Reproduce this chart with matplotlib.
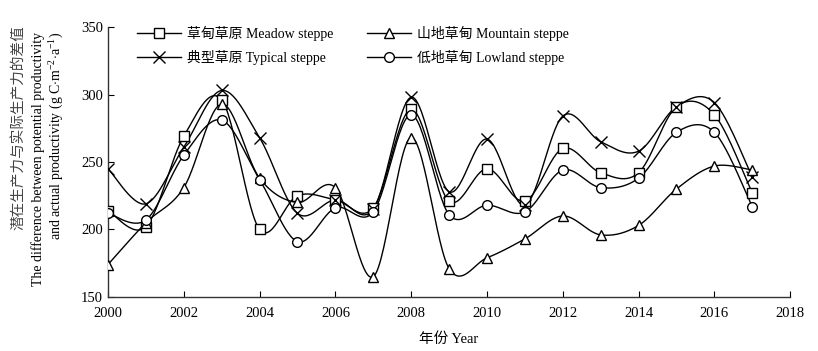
import numpy as np
import matplotlib
matplotlib.use("Agg")
import matplotlib.pyplot as plt

plt.rcParams['font.family'] = ['Liberation Serif', 'Noto Sans CJK SC']
plt.rcParams['mathtext.fontset'] = 'custom'
plt.rcParams['mathtext.rm'] = 'Liberation Serif'

years = list(range(2000, 2018))
meadow = [214, 202, 269, 296, 200, 225, 222, 216, 289, 221, 245, 221, 260, 242, 242, 291, 285, 227]
mountain = [174, 205, 231, 293, 238, 220, 231, 165, 268, 171, 179, 193, 210, 196, 203, 230, 247, 244]
typical = [245, 219, 261, 303, 268, 212, 222, 215, 298, 228, 267, 218, 284, 265, 258, 291, 294, 239]
lowland = [212, 207, 255, 281, 237, 191, 216, 213, 285, 211, 218, 213, 244, 231, 238, 272, 272, 217]

series = [
    ('草甸草原 Meadow steppe', meadow, 's'),
    ('典型草原 Typical steppe', typical, 'x'),
    ('山地草甸 Mountain steppe', mountain, '^'),
    ('低地草甸 Lowland steppe', lowland, 'o'),
]


# smooth line like the spreadsheet "smoothed line" option (Catmull-Rom)
def smooth(x, y, n=30):
    x = np.asarray(x, float)
    y = np.asarray(y, float)
    px = np.concatenate([[x[0]], x, [x[-1]]])
    py = np.concatenate([[y[0]], y, [y[-1]]])
    t = np.linspace(0, 1, n)
    xs, ys = [], []
    for i in range(1, len(x)):
        for p, out in ((px, xs), (py, ys)):
            p0, p1, p2, p3 = p[i - 1], p[i], p[i + 1], p[i + 2]
            c1 = p1 + (p2 - p0) / 6
            c2 = p2 - (p3 - p1) / 6
            b = ((1 - t) ** 3 * p1 + 3 * (1 - t) ** 2 * t * c1
                 + 3 * (1 - t) * t ** 2 * c2 + t ** 3 * p2)
            out.extend(b)
    return np.array(xs), np.array(ys)


fig = plt.figure(figsize=(8.18, 3.51), dpi=100)
ax = fig.add_axes([0.132, 0.154, 0.834, 0.769])

for label, vals, m in series:
    ms = 8 if m == 'x' else 7
    sx, sy = smooth(years, vals)
    ax.plot(sx, sy, color='black', lw=1.0, zorder=2)
    ax.plot(years, vals, linestyle='none', marker=m, markersize=ms,
            markerfacecolor='white', markeredgecolor='black',
            markeredgewidth=1.0, zorder=3)
    ax.plot([], [], color='black', lw=1.0, marker=m, markersize=ms,
            markerfacecolor='white', markeredgecolor='black', label=label)

ax.set_xlim(2000, 2018)
ax.set_ylim(150, 350)
ax.set_xticks(range(2000, 2019, 2))
ax.set_yticks(range(150, 351, 50))
ax.tick_params(direction='in', labelsize=10.5, length=4, width=0.8)
ax.tick_params(axis='x', pad=7)
for s in ['top', 'right']:
    ax.spines[s].set_visible(False)
for s in ['left', 'bottom']:
    ax.spines[s].set_linewidth(1.0)
    ax.spines[s].set_color('#333333')

ax.set_xlabel('年份 Year', fontsize=10.5, labelpad=9)

fig.text(0.022, 0.929, '潜在生产力与实际生产力的差值', rotation=90, ha='center',
         va='top', fontsize=10.5, color='#444444')
fig.text(0.047, 0.909, 'The difference between potential productivity',
         rotation=90, ha='center', va='top', fontsize=10)
fig.text(0.068, 0.909,
         r'and actual productivity (g C$\cdot$m$^{-2}$$\cdot$a$^{-1}$)',
         rotation=90, ha='center', va='top', fontsize=10)

ax.legend(loc='upper left', bbox_to_anchor=(0.024, 1.05), ncol=2, frameon=False,
          fontsize=10, handlelength=3.2, columnspacing=2.4, labelspacing=0.65,
          handletextpad=0.4)

fig.savefig('out.png', dpi=100)
